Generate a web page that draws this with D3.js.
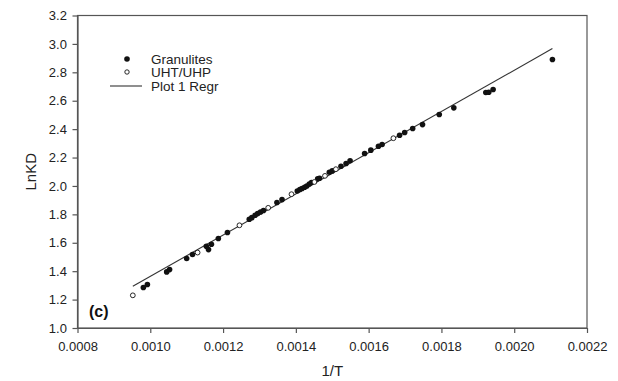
<!DOCTYPE html>
<html><head><meta charset="utf-8">
<script src="https://cdn.jsdelivr.net/npm/d3@7"></script>
<style>body{margin:0;background:#fff}svg{display:block}text{font-family:"Liberation Sans",Arial,sans-serif}</style>
</head><body>
<script>
const granX = [0.000981,0.000992,0.001045,0.001053,0.001100,0.001116,0.001154,0.001160,0.001168,0.001187,0.001212,0.001272,0.001279,0.001288,0.001295,0.001303,0.001311,0.001348,0.001362,0.001404,0.001411,0.001417,0.001424,0.001430,0.001437,0.001443,0.001460,0.001465,0.001492,0.001500,0.001524,0.001538,0.001549,0.001589,0.001606,0.001627,0.001637,0.001685,0.001699,0.001721,0.001748,0.001794,0.001834,0.001922,0.001930,0.001942,0.002105];
const granY = [1.285,1.306,1.395,1.411,1.489,1.517,1.576,1.552,1.590,1.630,1.672,1.766,1.777,1.794,1.806,1.817,1.827,1.883,1.904,1.965,1.975,1.982,1.991,2.000,2.014,2.024,2.050,2.054,2.097,2.106,2.139,2.158,2.177,2.228,2.252,2.280,2.292,2.357,2.376,2.404,2.432,2.503,2.550,2.658,2.660,2.679,2.890];
const uhtX = [0.000952,0.001130,0.001245,0.001324,0.001388,0.001451,0.001480,0.001510,0.001668];
const uhtY = [1.230,1.531,1.723,1.846,1.942,2.028,2.071,2.118,2.336];
const regrX = [0.000952,0.002105];
const regrY = [1.294,2.967];
const xTicks = [0.0008,0.0010,0.0012,0.0014,0.0016,0.0018,0.0020,0.0022];
const yTicks = [1.0,1.2,1.4,1.6,1.8,2.0,2.2,2.4,2.6,2.8,3.0,3.2];
const legendLabels = ["Granulites","UHT/UHP","Plot 1 Regr"];

const W=618,H=381, L=77.5,R=587,T=15.5,B=328;
const svg=d3.select("body").append("svg").attr("width",W).attr("height",H);
const x=d3.scaleLinear().domain([0.0008,0.0022]).range([L,R]);
const y=d3.scaleLinear().domain([1.0,3.2]).range([B,T]);

svg.append("rect").attr("x",L).attr("y",T).attr("width",R-L).attr("height",B-T)
  .attr("fill","none").attr("stroke","#555").attr("stroke-width",1.2);

const xa=svg.append("g").attr("transform",`translate(0,${B})`)
  .call(d3.axisBottom(x).tickValues(xTicks).tickFormat(d3.format(".4f")).tickSize(5).tickSizeOuter(0));
const ya=svg.append("g").attr("transform",`translate(${L},0)`)
  .call(d3.axisLeft(y).tickValues(yTicks).tickFormat(d3.format(".1f")).tickSize(5).tickSizeOuter(0));
[xa,ya].forEach(a=>{a.select(".domain").attr("stroke","#555").attr("stroke-width",1.2);
  a.selectAll(".tick line").attr("stroke","#555").attr("stroke-width",1.2);
  a.selectAll("text").attr("font-size",13).attr("fill","#222").attr("font-family","Liberation Sans, Arial, sans-serif");});
xa.selectAll("text").attr("dy","1.15em");
ya.selectAll("text").attr("dx","-0.2em");

svg.append("text").attr("x",(L+R)/2).attr("y",376).attr("text-anchor","middle")
  .attr("font-size",15).attr("fill","#222").text("1/T");
svg.append("text").attr("transform",`translate(36,${(T+B)/2}) rotate(-90)`).attr("text-anchor","middle")
  .attr("font-size",15).attr("fill","#222").text("LnKD");

svg.append("line").attr("x1",x(regrX[0])).attr("y1",y(regrY[0])).attr("x2",x(regrX[1])).attr("y2",y(regrY[1]))
  .attr("stroke","#333").attr("stroke-width",1.1);

svg.append("g").selectAll("circle").data(granX.map((d,i)=>[d,granY[i]])).join("circle")
  .attr("cx",d=>x(d[0])).attr("cy",d=>y(d[1])).attr("r",2.8).attr("fill","#111");
svg.append("g").selectAll("circle").data(uhtX.map((d,i)=>[d,uhtY[i]])).join("circle")
  .attr("cx",d=>x(d[0])).attr("cy",d=>y(d[1])).attr("r",2.4).attr("fill","#fff").attr("stroke","#111").attr("stroke-width",0.9);

const lg=svg.append("g");
lg.append("circle").attr("cx",127).attr("cy",59).attr("r",2.8).attr("fill","#111");
lg.append("circle").attr("cx",127).attr("cy",72).attr("r",2.2).attr("fill","#fff").attr("stroke","#111").attr("stroke-width",0.9);
lg.append("line").attr("x1",110).attr("x2",142).attr("y1",86).attr("y2",86).attr("stroke","#333").attr("stroke-width",1.1);
legendLabels.forEach((t,i)=>lg.append("text").attr("x",151).attr("y",59+i*13.5).attr("dy","0.35em")
  .attr("font-size",13.5).attr("fill","#222").text(t));

svg.append("text").attr("x",89).attr("y",317).attr("font-size",16).attr("font-weight","bold").attr("fill","#111").text("(c)");
</script>
</body></html>
